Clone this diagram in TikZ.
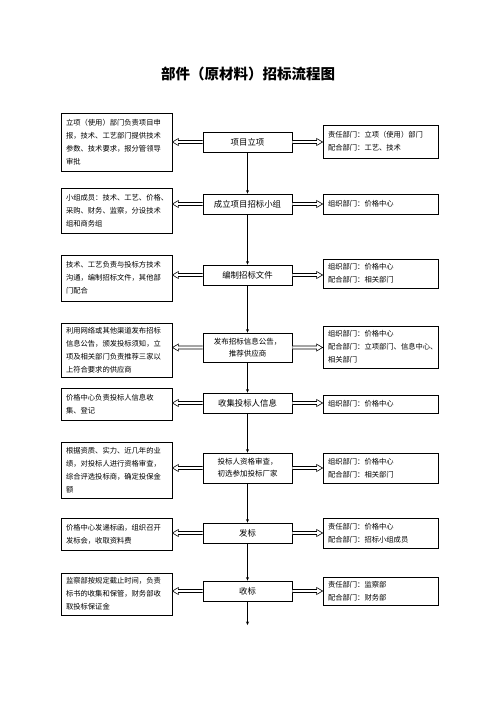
\documentclass[tikz,border=0pt]{standalone}
\usepackage{fontspec}
\setmainfont{Noto Sans CJK SC}
\usetikzlibrary{arrows.meta,positioning,calc}

\begin{document}
\begin{tikzpicture}[
  x=1pt, y=-1pt,
  stage/.style={rectangle, draw=black, line width=0.8pt, minimum width=89, minimum height=20, align=center, inner sep=1pt, font=\fontsize{8.4}{12}\selectfont},
  small stage/.style={stage, font=\fontsize{7.5}{12}\selectfont},
  task/.style={rectangle, draw=black, line width=0.8pt, text width=101, inner xsep=5pt, inner ysep=2pt, align=left, font=\fontsize{7.3}{13}\selectfont},
  dept/.style={rectangle, draw=black, line width=0.8pt, text width=105, inner xsep=5pt, inner ysep=2pt, align=left, font=\fontsize{7.3}{13}\selectfont},
  flow/.style={line width=0.6pt, -{Stealth[length=3.5pt,width=3pt]}},
  hollow/.style={draw=black, line width=0.6pt, fill=white, line join=miter}
]
\useasboundingbox (0,0) rectangle (496,702);

% Title
\node (title) at (248,74) {\fontsize{14.5}{16}\selectfont\bfseries 部件（原材料）招标流程图};

% Steps
\node (s1) [stage] at (247.5,142) {项目立项};
\node (s2) [stage] at (247.5,204) {成立项目招标小组};
\node (s3) [stage] at (247.5,275) {编制招标文件};
\node (s4) [small stage, minimum height=29] at (247.5,347.5) {发布招标信息公告，\\推荐供应商};
\node (s5) [stage] at (247.5,403) {收集投标人信息};
\node (s6) [small stage, minimum height=30] at (247.5,468) {投标人资格审查，\\初选参加投标厂家};
\node (s7) [stage] at (247.5,533) {发标};
\node (s8) [stage] at (247.5,591) {收标};
\coordinate (end) at (247.5,625);

% Tasks
\node (t1) [task, minimum height=58] at (116.5,142) {立项（使用）部门负责项目申\\报，技术、工艺部门提供技术\\参数、技术要求，报分管领导\\审批};
\node (t2) [task, minimum height=45] at (116.5,210.5) {小组成员：技术、工艺、价格、\\采购、财务、监察，分设技术\\组和商务组};
\node (t3) [task, minimum height=46] at (116.5,278) {技术、工艺负责与投标方技术\\沟通，编制招标文件，其他部\\门配合};
\node (t4) [task, minimum height=54] at (116.5,350) {利用网络或其他渠道发布招标\\信息公告，颁发投标须知，立\\项及相关部门负责推荐三家以\\上符合要求的供应商};
\node (t5) [task, minimum height=32] at (116.5,404) {价格中心负责投标人信息收\\集、登记};
\node (t6) [task, minimum height=56] at (116.5,470) {根据资质、实力、近几年的业\\绩，对投标人进行资格审查，\\综合评选投标商，确定投保金\\额};
\node (t7) [task, minimum height=32] at (116.5,534) {价格中心发递标函，组织召开\\发标会，收取资料费};
\node (t8) [task, minimum height=42] at (116.5,594) {监察部按规定截止时间，负责\\标书的收集和保管，财务部收\\取投标保证金};

% Departments
\node (d1) [dept, minimum height=33] at (380.5,141.5) {责任部门：立项（使用）部门\\配合部门：工艺、技术};
\node (d2) [dept, minimum height=20] at (380.5,204) {组织部门：价格中心};
\node (d3) [dept, minimum height=29] at (380.5,273.5) {组织部门：价格中心\\配合部门：相关部门};
\node (d4) [dept, minimum height=42] at (380.5,347) {组织部门：价格中心\\配合部门：立项部门、信息中心、\\相关部门};
\node (d5) [dept, minimum height=18] at (380.5,404) {组织部门：价格中心};
\node (d6) [dept, minimum height=30] at (380.5,468) {组织部门：价格中心\\配合部门：相关部门};
\node (d7) [dept, minimum height=30] at (380.5,533) {责任部门：价格中心\\配合部门：招标小组成员};
\node (d8) [dept, minimum height=28] at (380.5,591) {责任部门：监察部\\配合部门：财务部};

% Connections
\foreach \i/\j in {1/2,2/3,3/4,4/5,5/6,6/7,7/8}
  \draw [flow] (s\i) -- (s\j);
\draw [flow] (s8) -- (end);
\foreach \i in {1,...,8} {
  \coordinate (tl\i) at (s\i.west -| t\i.east);
  \coordinate (dr\i) at (s\i.east -| d\i.west);
  % hollow arrow to the left
  \draw [hollow] let \p1=(s\i.west), \p2=(tl\i) in
    (\x1,{\y1+1.5pt}) -- ({\x2+6pt},{\y1+1.5pt}) -- ({\x2+6pt},{\y1+3.5pt}) -- (\x2,\y1)
    -- ({\x2+6pt},{\y1-3.5pt}) -- ({\x2+6pt},{\y1-1.5pt}) -- (\x1,{\y1-1.5pt});
  % hollow arrow to the right
  \draw [hollow] let \p1=(s\i.east), \p2=(dr\i) in
    (\x1,{\y1+1.5pt}) -- ({\x2-6pt},{\y1+1.5pt}) -- ({\x2-6pt},{\y1+3.5pt}) -- (\x2,\y1)
    -- ({\x2-6pt},{\y1-3.5pt}) -- ({\x2-6pt},{\y1-1.5pt}) -- (\x1,{\y1-1.5pt});
}

\end{tikzpicture}
\end{document}
